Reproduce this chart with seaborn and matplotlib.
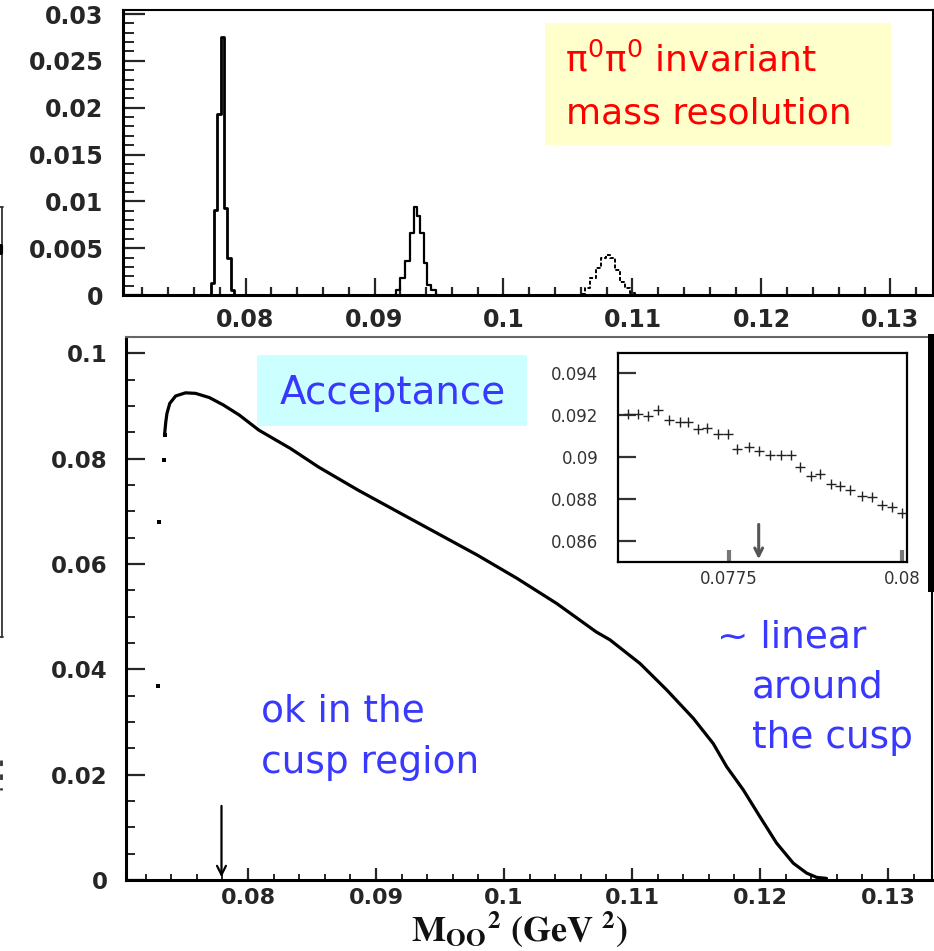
import matplotlib
matplotlib.use('Agg')
import matplotlib.pyplot as plt
import matplotlib.ticker as ticker
from matplotlib.patches import Rectangle
from matplotlib.lines import Line2D
import seaborn as sns

# ---- data ----
# top panel: pi0pi0 invariant mass resolution (three peaks, bin centres / contents)
peak1_x = [0.07716, 0.07742, 0.07768, 0.07794, 0.07820, 0.07846, 0.07872, 0.07898, 0.07924]
peak1_y = [0.0, 0.0013, 0.0091, 0.0193, 0.0275, 0.0093, 0.0039, 0.0005, 0.0]
peak2_x = [0.09150, 0.09180, 0.09220, 0.09260, 0.09292, 0.09318, 0.09341, 0.09366, 0.09395, 0.09421, 0.09460, 0.09500]
peak2_y = [0.0, 0.0005, 0.0018, 0.0036, 0.0066, 0.0094, 0.0084, 0.0066, 0.0034, 0.0011, 0.0005, 0.0]
peak3_x = [0.10570, 0.10610, 0.10649, 0.10700, 0.10739, 0.10778, 0.10812, 0.10843, 0.10881, 0.10920, 0.10959, 0.10998, 0.11040]
peak3_y = [0.0, 0.0001, 0.0007, 0.0018, 0.0029, 0.0039, 0.0043, 0.0039, 0.0027, 0.0014, 0.0007, 0.0002, 0.0]

# lower panel: acceptance
thr_x = [0.07296, 0.07305, 0.07342, 0.07348]
thr_y = [0.0368, 0.0680, 0.0798, 0.0845]
acc_x = [0.07348, 0.07358, 0.07367, 0.07389, 0.07435, 0.07512, 0.07590, 0.07698, 0.07807,
         0.07931, 0.08086, 0.08334, 0.08552, 0.08862, 0.09171, 0.09481, 0.09791, 0.10100,
         0.10412, 0.10721, 0.10828, 0.11063, 0.11271, 0.11479, 0.11635, 0.11740, 0.11870,
         0.12000, 0.12130, 0.12260, 0.12365, 0.12443, 0.12520]
acc_y = [0.0845, 0.0870, 0.0886, 0.0905, 0.0919, 0.0925, 0.0924, 0.0916, 0.0902,
         0.0883, 0.0854, 0.0819, 0.0784, 0.0740, 0.0699, 0.0658, 0.0617, 0.0573,
         0.0525, 0.0471, 0.0456, 0.0411, 0.0361, 0.0307, 0.0259, 0.0215, 0.0171,
         0.0120, 0.0070, 0.0032, 0.0013, 0.0005, 0.0003]

# inset: zoom on the cusp
ins_x = [0.07605, 0.07619, 0.07633, 0.07648, 0.07664, 0.07679, 0.07691, 0.07705, 0.07719,
         0.07734, 0.07748, 0.07762, 0.07779, 0.07794, 0.07810, 0.07825, 0.07839, 0.07853,
         0.07868, 0.07882, 0.07897, 0.07911, 0.07925, 0.07942, 0.07956, 0.07971, 0.07985, 0.08000]
ins_y = [0.09205, 0.09205, 0.09195, 0.09224, 0.09176, 0.09168, 0.09168, 0.09132, 0.09140,
         0.09110, 0.09110, 0.09040, 0.09049, 0.09030, 0.09010, 0.09010, 0.09010, 0.08950,
         0.08910, 0.08920, 0.08872, 0.08864, 0.08843, 0.08816, 0.08811, 0.08772, 0.08764, 0.08732]

cusp = 0.07793

top_xticks = [0.08, 0.09, 0.10, 0.11, 0.12, 0.13]
top_xlabels = ['0.08', '0.09', '0.1', '0.11', '0.12', '0.13']
top_yticks = [0, 0.005, 0.01, 0.015, 0.02, 0.025, 0.03]
top_ylabels = ['0', '0.005', '0.01', '0.015', '0.02', '0.025', '0.03']
low_yticks = [0, 0.02, 0.04, 0.06, 0.08, 0.1]
low_ylabels = ['0', '0.02', '0.04', '0.06', '0.08', '0.1']
ins_yticks = [0.086, 0.088, 0.09, 0.092, 0.094]
ins_ylabels = ['0.086', '0.088', '0.09', '0.092', '0.094']
ins_xticks = [0.0775, 0.08]
ins_xlabels = ['0.0775', '0.08']

# ---- figure ----
sns.set_style('ticks')
plt.rcParams['font.family'] = ['DejaVu Sans']
plt.rcParams['mathtext.fontset'] = 'stix'

W, H = 934, 951
def fx(px):
    return px / W
def fy(py):
    return 1 - py / H

fig = plt.figure(figsize=(9.34, 9.51), dpi=100)
ax_top = fig.add_axes([fx(123), fy(295), (933 - 123) / W, (295 - 10) / H])
ax_low = fig.add_axes([fx(126), fy(880), (932 - 126) / W, (880 - 337) / H])
ax_in = fig.add_axes([fx(618), fy(562), (907 - 618) / W, (562 - 353) / H])

# top panel
sns.lineplot(x=peak1_x, y=peak1_y, ax=ax_top, color='black', lw=2.0, drawstyle='steps-mid',
             estimator=None, sort=False, legend=False)
sns.lineplot(x=peak2_x, y=peak2_y, ax=ax_top, color='black', lw=1.6, drawstyle='steps-mid',
             estimator=None, sort=False, legend=False)
sns.lineplot(x=peak3_x, y=peak3_y, ax=ax_top, color='black', lw=1.4, drawstyle='steps-mid',
             linestyle=(0, (2, 1)), estimator=None, sort=False, legend=False)
ax_top.set_xlim(0.0705, 0.1333)
ax_top.set_ylim(0, 0.03043)
ax_top.set_xticks(top_xticks)
ax_top.set_xticklabels(top_xlabels)
ax_top.set_yticks(top_yticks)
ax_top.set_yticklabels(top_ylabels)
ax_top.xaxis.set_minor_locator(ticker.MultipleLocator(0.002))
ax_top.yaxis.set_minor_locator(ticker.MultipleLocator(0.001))
ax_top.tick_params(axis='y', which='major', direction='in', length=16, width=1.6, pad=14,
                   labelsize=17)
ax_top.tick_params(axis='y', which='minor', direction='in', length=8, width=1.4)
ax_top.tick_params(axis='x', which='major', direction='in', length=12, width=1.6, pad=9,
                   labelsize=17)
ax_top.tick_params(axis='x', which='minor', direction='in', length=6, width=1.6)

# lower panel
sns.lineplot(x=acc_x, y=acc_y, ax=ax_low, color='black', lw=2.3,
             estimator=None, sort=False, legend=False)
sns.scatterplot(x=thr_x, y=thr_y, ax=ax_low, color='black', marker='s', s=7,
                linewidth=0, legend=False)
ax_low.set_xlim(0.07047, 0.13344)
ax_low.set_ylim(0, 0.1031)
ax_low.set_xticks(top_xticks)
ax_low.set_xticklabels(top_xlabels)
ax_low.set_yticks(low_yticks)
ax_low.set_yticklabels(low_ylabels)
ax_low.xaxis.set_minor_locator(ticker.MultipleLocator(0.002))
ax_low.yaxis.set_minor_locator(ticker.MultipleLocator(0.005))
ax_low.tick_params(axis='y', which='major', direction='in', length=14, width=1.6, pad=13,
                   labelsize=16.5)
ax_low.tick_params(axis='y', which='minor', direction='in', length=6.5, width=1.4)
ax_low.tick_params(axis='x', which='major', direction='in', length=9, width=1.6, pad=6,
                   labelsize=16)
ax_low.tick_params(axis='x', which='minor', direction='in', length=4.5, width=1.4)
ax_low.annotate('', xy=(cusp, 0.0), xytext=(cusp, 0.0146),
                arrowprops=dict(arrowstyle='->', color='black', lw=1.6, mutation_scale=16))

for ax in (ax_top, ax_low):
    ax.set_xlabel('')
    ax.set_ylabel('')
    for lab in ax.get_xticklabels() + ax.get_yticklabels():
        lab.set_fontweight('bold')
    ax.spines['left'].set_linewidth(2.2)
    ax.spines['bottom'].set_linewidth(2.2)
    ax.spines['top'].set_linewidth(1.5)
    ax.spines['right'].set_linewidth(1.5)
    for s in ax.spines.values():
        s.set_visible(True)
        s.set_color('black')
ax_low.spines['top'].set_color('#666666')

# inset
sns.scatterplot(x=ins_x, y=ins_y, ax=ax_in, marker='+', s=55, color='#222222',
                linewidth=1.0, legend=False)
ax_in.set_xlim(0.0759, 0.08007)
ax_in.set_ylim(0.085, 0.09495)
ax_in.set_xticks(ins_xticks)
ax_in.set_xticklabels(ins_xlabels)
ax_in.set_yticks(ins_yticks)
ax_in.set_yticklabels(ins_ylabels)
ax_in.set_xlabel('')
ax_in.set_ylabel('')
ax_in.tick_params(axis='y', direction='in', length=13, width=1.6, pad=14, labelsize=12,
                  colors='#333333')
ax_in.tick_params(axis='x', direction='in', length=9, width=3, pad=6, labelsize=12,
                  colors='#777777', labelcolor='#333333')
for s in ax_in.spines.values():
    s.set_visible(True)
    s.set_linewidth(1.6)
    s.set_color('black')
ax_in.annotate('', xy=(cusp, 0.085), xytext=(cusp, 0.08692),
               arrowprops=dict(arrowstyle='->', color='#555555', lw=2.2, mutation_scale=14))

# x axis title
fig.text(fx(520), fy(941),
         r'$\mathbf{M}_{\mathbf{OO}}{}^{\mathbf{2}}\ \mathbf{(GeV}\ {}^{\mathbf{2}}\mathbf{)}$',
         fontsize=26, ha='center', va='baseline', color='#111111')

# annotation boxes and texts
ax_top.add_patch(Rectangle((fx(545), fy(145)), (891 - 545) / W, (145 - 23) / H,
                           transform=fig.transFigure, facecolor='#FFFFCC',
                           edgecolor='none', zorder=0.5))
fig.text(fx(565), fy(72), r'$\mathrm{\pi}^{0}\mathrm{\pi}^{0}$ invariant', fontsize=26,
         color='#FF0000', ha='left', va='baseline', math_fontfamily='dejavusans')
fig.text(fx(566), fy(124), 'mass resolution', fontsize=26, color='#FF0000',
         ha='left', va='baseline')

ax_low.add_patch(Rectangle((fx(257), fy(426)), (527 - 257) / W, (426 - 355) / H,
                           transform=fig.transFigure, facecolor='#CCFFFF',
                           edgecolor='none', zorder=0.5))
blue = '#3838FF'
fig.text(fx(280), fy(404), 'Acceptance', fontsize=28, color=blue, ha='left', va='baseline')
fig.text(fx(261), fy(722), 'ok in the', fontsize=27, color=blue, ha='left', va='baseline')
fig.text(fx(261), fy(773), 'cusp region', fontsize=27, color=blue, ha='left', va='baseline')
fig.text(fx(717), fy(647), '~ linear', fontsize=27, color=blue, ha='left', va='baseline')
fig.text(fx(752), fy(698), 'around', fontsize=27, color=blue, ha='left', va='baseline')
fig.text(fx(752), fy(748), 'the cusp', fontsize=27, color=blue, ha='left', va='baseline')

# cut-off bits at the slide edges
fig.add_artist(Rectangle((fx(928), fy(592)), 6 / W, (592 - 334) / H,
                         transform=fig.transFigure, facecolor='black', edgecolor='none',
                         zorder=10))
fig.add_artist(Line2D([fx(2), fx(2)], [fy(207), fy(637)], transform=fig.transFigure,
                      color='#333333', lw=1.3))
fig.add_artist(Line2D([0, fx(3)], [fy(207), fy(207)], transform=fig.transFigure,
                      color='#333333', lw=1.3))
fig.add_artist(Line2D([0, fx(3)], [fy(637), fy(637)], transform=fig.transFigure,
                      color='#333333', lw=1.3))
fig.add_artist(Line2D([fx(1), fx(1)], [fy(246), fy(253)], transform=fig.transFigure,
                      color='black', lw=3))
fig.add_artist(Line2D([fx(1), fx(1)], [fy(760), fy(790)], transform=fig.transFigure,
                      color='#333333', lw=2, linestyle=(0, (2, 3))))

fig.savefig('out.png', dpi=100)
